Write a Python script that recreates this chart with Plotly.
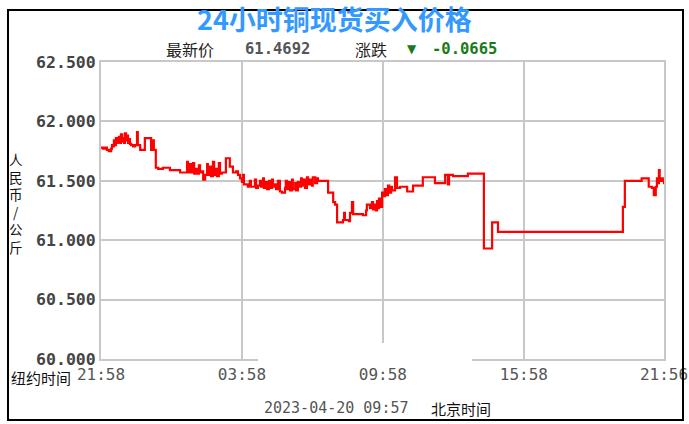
import plotly.graph_objects as go

# minutes since 21:58 (New York time start) and copper price (CNY/kg)
minutes = [
    0, 5, 10, 15, 20, 26, 28, 31, 33, 36, 38, 41, 43, 46, 49, 51, 54, 56, 59, 61,
    64, 66, 69, 72, 74, 77, 82, 87, 92, 94, 100, 112, 128, 133, 135,
    140, 146, 158, 176, 202, 220, 222, 227, 230, 235, 238, 243, 245, 250, 253,
    258, 261, 266, 271, 273, 278, 281, 286, 289, 294, 296, 301, 304, 309, 319,
    329, 337, 345, 350, 355, 360, 363, 365,
    370, 375, 380, 383, 388, 393, 396, 401, 406, 409, 414, 416, 421, 424, 429,
    432, 437, 439, 444, 447, 452, 457, 462, 470, 472, 475, 480, 483, 488, 490,
    496, 498, 503, 508, 511, 513, 518, 521, 526, 529, 534, 539, 541, 547, 552,
    554, 580, 593, 598, 603, 618, 621, 623, 633, 636, 641, 644, 669, 677, 679,
    687, 692, 695, 700, 702, 705, 708, 710, 713, 718, 720, 725, 728, 733, 736,
    741, 743, 751, 756, 764, 782, 797, 822, 853, 879, 886, 889, 899, 937, 978,
    999, 1014, 1333, 1338, 1381, 1399, 1407, 1412, 1417, 1420, 1422, 1425, 1427,
    1432, 1435, 1438,
]
prices = [
    61.78, 61.77, 61.78, 61.76, 61.75, 61.77, 61.80, 61.79, 61.84, 61.80, 61.86,
    61.82, 61.83, 61.87, 61.82, 61.89, 61.83, 61.86, 61.82, 61.90,
    61.84, 61.88, 61.82, 61.85, 61.81, 61.80, 61.79, 61.80, 61.91, 61.80, 61.76,
    61.86, 61.76, 61.84, 61.76,
    61.61, 61.60, 61.61, 61.59, 61.57, 61.66, 61.57, 61.64, 61.57, 61.65, 61.56,
    61.60, 61.56, 61.63, 61.57,
    61.58, 61.51, 61.55, 61.64, 61.55, 61.62, 61.54, 61.66, 61.55, 61.60, 61.54,
    61.65, 61.56, 61.57, 61.69,
    61.62, 61.57, 61.58, 61.55, 61.52, 61.49, 61.55, 61.47,
    61.47, 61.45, 61.50, 61.45, 61.45, 61.51, 61.44, 61.46, 61.50, 61.45, 61.52,
    61.44, 61.49, 61.43, 61.50,
    61.44, 61.51, 61.45, 61.47, 61.43, 61.50, 61.41, 61.40, 61.44, 61.50, 61.43,
    61.49, 61.42, 61.51, 61.43,
    61.48, 61.42, 61.49, 61.45, 61.52, 61.46, 61.51, 61.44, 61.53, 61.47, 61.51,
    61.46, 61.53, 61.48, 61.52,
    61.50, 61.40, 61.32, 61.30, 61.15, 61.17, 61.23, 61.17, 61.16, 61.23, 61.32,
    61.22, 61.21, 61.25, 61.30,
    61.27, 61.32, 61.26, 61.30, 61.25, 61.33, 61.27, 61.35, 61.28, 61.40, 61.37,
    61.43, 61.38, 61.46, 61.40,
    61.45, 61.42, 61.53, 61.44, 61.45, 61.41, 61.46, 61.53, 61.48, 61.55, 61.47,
    61.55, 61.54, 61.56, 60.93,
    61.15, 61.07, 61.28, 61.50, 61.52, 61.45, 61.44, 61.38, 61.45, 61.52, 61.48,
    61.59, 61.50,
    61.52, 61.50, 61.47,
]

x_tick_vals = [0, 360, 720, 1080, 1438]
x_tick_text = ["21:58", "03:58", "09:58", "15:58", "21:56"]
y_tick_vals = [60.0, 60.5, 61.0, 61.5, 62.0, 62.5]
y_tick_text = ["60.000", "60.500", "61.000", "61.500", "62.000", "62.500"]

title_text = "24小时铜现货买入价格"
latest_label = "最新价"
latest_value = "61.4692"
change_label = "涨跌"
change_value = "-0.0665"
y_title_chars = ["人", "民", "币", "/", "公", "斤"]
ny_label = "纽约时间"
timestamp = "2023-04-20 09:57"
bj_label = "北京时间"

W, H = 689, 424
L, R, T, B = 101, 25, 62, 65
pw, ph = W - L - R, H - T - B


def px(xp):
    return (xp - L) / pw


def py(yp):
    return (H - B - yp) / ph


mono = "DejaVu Sans Mono"
cjk = "Noto Sans CJK SC"

fig = go.Figure()
fig.add_trace(go.Scatter(
    x=minutes, y=prices, mode="lines",
    line=dict(color="#ff0000", width=2.2, shape="hv"),
    hoverinfo="skip", showlegend=False,
))

fig.update_layout(
    width=W, height=H,
    margin=dict(l=L, r=R, t=T, b=B, pad=0, autoexpand=False),
    paper_bgcolor="white", plot_bgcolor="white",
    xaxis=dict(
        range=[0, 1438], tickvals=x_tick_vals, ticktext=x_tick_text,
        showgrid=True, gridcolor="#c8c8c8", gridwidth=2,
        showline=True, linecolor="#c8c8c8", linewidth=2, mirror=True,
        zeroline=False, ticks="", ticklen=0, automargin=False,
        tickfont=dict(family=mono, size=16, color="#555555"),
    ),
    yaxis=dict(
        range=[60, 62.5], tickvals=y_tick_vals, ticktext=y_tick_text,
        showgrid=True, gridcolor="#c8c8c8", gridwidth=2,
        showline=True, linecolor="#c8c8c8", linewidth=2, mirror=True,
        zeroline=False, ticks="", ticklen=0, automargin=False,
        tickfont=dict(family=mono, size=16.5, color="#444444", weight="bold"),
    ),
)

ann = []
ann.append(dict(text=title_text, x=px(334), y=py(18), xref="paper", yref="paper",
                showarrow=False, xanchor="center", yanchor="middle",
                font=dict(family=cjk, size=27, color="#3399ff", weight="bold")))
sub_y = py(49)
ann.append(dict(text=latest_label, x=px(190), y=sub_y, xref="paper", yref="paper",
                showarrow=False, xanchor="center", yanchor="middle",
                font=dict(family=cjk, size=16, color="#222222")))
ann.append(dict(text=latest_value, x=px(277), y=sub_y, xref="paper", yref="paper",
                showarrow=False, xanchor="center", yanchor="middle",
                font=dict(family=mono, size=15.5, color="#555555", weight="bold")))
ann.append(dict(text=change_label, x=px(371), y=sub_y, xref="paper", yref="paper",
                showarrow=False, xanchor="center", yanchor="middle",
                font=dict(family=cjk, size=16, color="#222222")))
ann.append(dict(text="▼", x=px(412), y=sub_y, xref="paper", yref="paper",
                showarrow=False, xanchor="center", yanchor="middle",
                font=dict(family="DejaVu Sans", size=12, color="#1a7a1a")))
ann.append(dict(text=change_value, x=px(464), y=sub_y, xref="paper", yref="paper",
                showarrow=False, xanchor="center", yanchor="middle",
                font=dict(family=mono, size=15.5, color="#1a7a1a", weight="bold")))
for i, ch in enumerate(y_title_chars):
    ann.append(dict(text=ch, x=px(16), y=py(159 + 17.5 * i),
                    xref="paper", yref="paper", showarrow=False,
                    xanchor="center", yanchor="middle", borderpad=0,
                    font=dict(family=cjk, size=13.5, color="#111111")))
ann.append(dict(text=ny_label, x=px(9), y=py(377), xref="paper", yref="paper",
                showarrow=False, xanchor="left", yanchor="middle",
                font=dict(family=cjk, size=15, color="#111111")))
ann.append(dict(text=timestamp, x=px(336), y=py(408), xref="paper", yref="paper",
                showarrow=False, xanchor="center", yanchor="middle",
                font=dict(family=mono, size=15, color="#555555")))
ann.append(dict(text=bj_label, x=px(461), y=py(408), xref="paper", yref="paper",
                showarrow=False, xanchor="center", yanchor="middle",
                font=dict(family=cjk, size=15, color="#111111")))
fig.update_layout(annotations=ann)

fig.add_shape(type="rect", xref="paper", yref="paper",
              x0=px(258), x1=px(472), y0=py(364), y1=py(343),
              fillcolor="white", line=dict(width=0), layer="above")
fig.add_shape(type="rect", xref="paper", yref="paper",
              x0=px(8), x1=px(683), y0=py(420), y1=py(10),
              line=dict(color="#000000", width=2), layer="above")

fig.write_html("out.html",
               config={"displayModeBar": False},
               post_script="document.body.style.margin='0px';")
